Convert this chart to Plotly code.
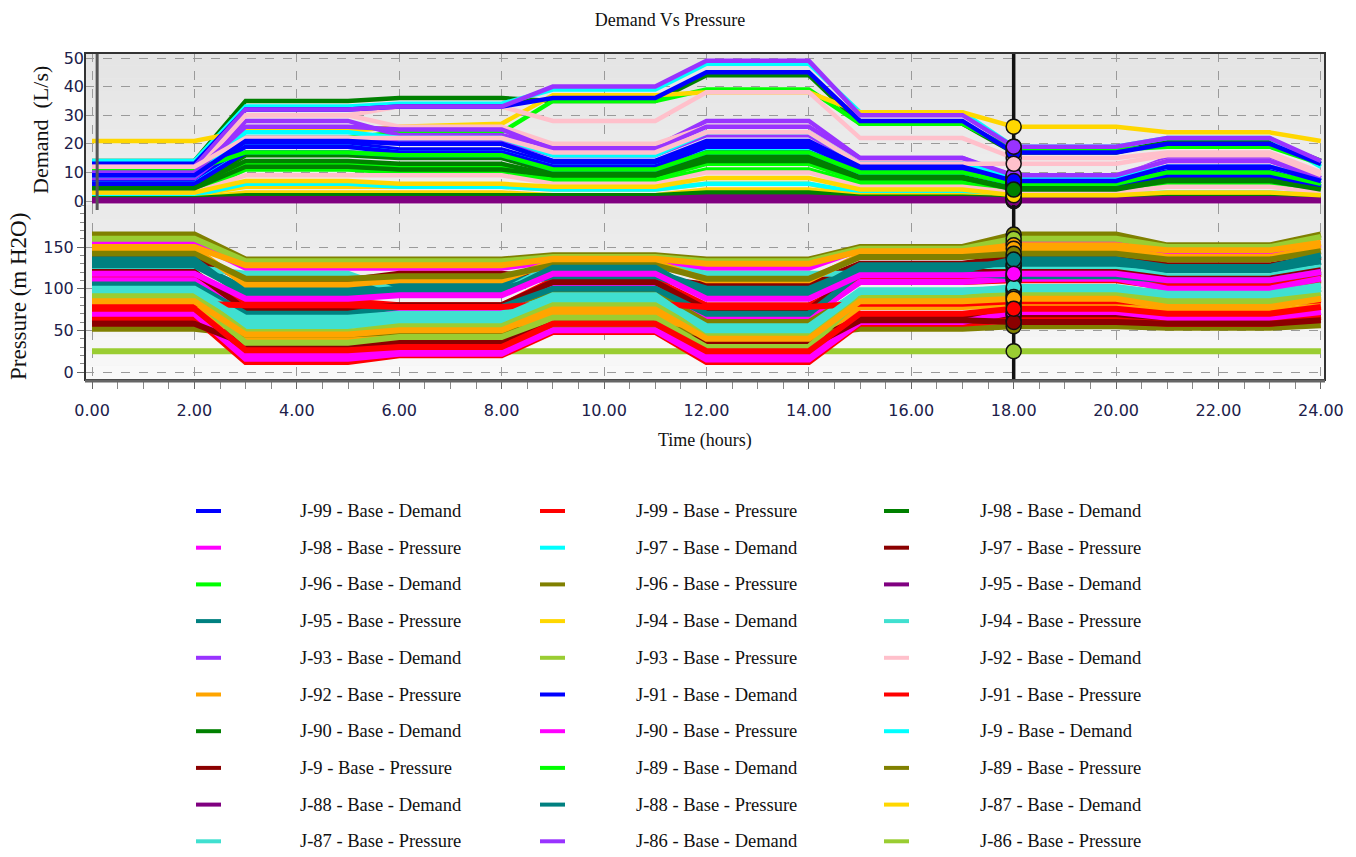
import plotly.graph_objects as go
from plotly.subplots import make_subplots

# ---------------- data ----------------
hours = [0, 2, 3, 5, 6, 8, 9, 11, 12, 14, 15, 17, 18, 20, 21, 23, 24]

junctions = ["J-99", "J-98", "J-97", "J-96", "J-95", "J-94", "J-93", "J-92", "J-91",
             "J-90", "J-9", "J-89", "J-88", "J-87", "J-86", "J-85", "J-84", "J-83",
             "J-82", "J-81", "J-80", "J-8", "J-79", "J-78", "J-77", "J-76",
             "J-75", "J-74", "J-73", "J-72", "J-71", "J-70", "J-7", "J-69"]

# Demand (L/s)
d_j99 = [7, 7, 20, 20, 18, 18, 13, 13, 20, 20, 11, 11, 6, 6, 10, 10, 6]
d_j98 = [14, 14, 35, 35, 36, 36, 35, 35, 44, 44, 27, 27, 17, 17, 21, 21, 14]
d_j97 = [14, 14, 33, 33, 34, 34, 39, 39, 48, 48, 31, 31, 19, 19, 22, 22, 12]
d_j96 = [12, 12, 22, 22, 24, 24, 35, 35, 39, 39, 27, 27, 18, 18, 19, 19, 13]
d_j95 = [1, 1, 2, 2, 2, 2, 1.5, 1.5, 2.5, 2.5, 1.5, 1.5, 1, 1, 1.5, 1.5, 1]
d_j94 = [21, 21, 24.5, 24.5, 26, 27, 37, 37, 38, 38, 31, 31, 26, 26, 24, 24, 21]
d_j93 = [9, 9, 28, 28, 23, 23, 19, 19, 28, 28, 15, 15, 8, 8, 15, 15, 8]
d_j92 = [11, 11, 30, 30, 33, 33, 28, 28, 38, 38, 22, 22, 15, 15, 17, 17, 10]
d_j91 = [13, 13, 32, 32, 33, 33, 36, 36, 45, 45, 28, 28, 17, 17, 20, 20, 13]
d_j90 = [5, 5, 16, 16, 15, 15, 10, 10, 16, 16, 9, 9, 5, 5, 8, 8, 5]
d_j9 = [6, 6, 19, 19, 17, 17, 12, 12, 18, 18, 10, 10, 6, 6, 9, 9, 5]
d_j89 = [4, 4, 13, 13, 12, 12, 8, 8, 13, 13, 7, 7, 4, 4, 7, 7, 4]
d_j88 = [0, 0, 0, 0, 0, 0, 0, 0, 0, 0, 0, 0, 0, 0, 0, 0, 0]
d_j87 = [2, 2, 5, 5, 5, 5, 4, 4, 6, 6, 2, 2, 1, 1, 2, 2, 1]
d_j86 = [12, 12, 32, 32, 33, 33, 40, 40, 49, 49, 30, 30, 19, 19, 22, 22, 14]
d_j85 = [10, 10, 30, 30, 26, 26, 20, 20, 26, 26, 14, 14, 9, 9, 14, 14, 7]
d_j84 = [8, 8, 19, 19, 17, 17, 12, 12, 19, 19, 11, 11, 7, 7, 11, 11, 7]
d_j83 = [5.5, 5.5, 14, 14, 13, 13, 9, 9, 14, 14, 8, 8, 4.5, 4.5, 8, 8, 4.5]
d_j82 = [2, 2, 6, 6, 5, 5, 4, 4, 6, 6, 3, 3, 2, 2, 3, 3, 2]
d_j81 = [3, 3, 11, 11, 10, 10, 7, 7, 11, 11, 6, 6, 3.5, 3.5, 6, 6, 3.5]
d_j80 = [0, 0, 0, 0, 0, 0, 0, 0, 0, 0, 0, 0, 0, 0, 0, 0, 0]
d_j8 = [1, 1, 3, 3, 3, 3, 2, 2, 4, 4, 2, 2, 1, 1, 2, 2, 1]
d_j79 = [8, 8, 22, 22, 21, 21, 16, 16, 23, 23, 13, 13, 8, 8, 12, 12, 7]
d_j78 = [3, 3, 9, 9, 9, 9, 6, 6, 10, 10, 5, 5, 3, 3, 5, 5, 3]
d_j77 = [6, 6, 17, 17, 16, 16, 11, 11, 17, 17, 10, 10, 6, 6, 9, 9, 5]
d_j76 = [1, 1, 2, 2, 2, 2, 2, 2, 3, 3, 1.5, 1.5, 1, 1, 1.5, 1.5, 1]
d_j75 = [9, 9, 24, 24, 22, 22, 16, 16, 24, 24, 13, 13, 8, 8, 12, 12, 7]
d_j74 = [11, 11, 17, 17, 16, 16, 11, 11, 17, 17, 10, 10, 6, 6, 10, 10, 6]
d_j73 = [0.5, 0.5, 1, 1, 1, 1, 1, 1, 1.5, 1.5, 1, 1, 0.5, 0.5, 1, 1, 0.5]
d_j72 = [3, 3, 7, 7, 6, 6, 5, 5, 8, 8, 4, 4, 2, 2, 3, 3, 2]
d_j71 = [10, 10, 26, 26, 25, 25, 18, 18, 26, 26, 15, 15, 9, 9, 14, 14, 8]
d_j70 = [12, 12, 22, 22, 22, 22, 17, 17, 24, 24, 13, 13, 13, 13, 16, 16, 9]
d_j7 = [9, 9, 21, 21, 20, 20, 14, 14, 21, 21, 12, 12, 7, 7, 12, 12, 7]
d_j69 = [4.5, 4.5, 12, 12, 11, 11, 9, 9, 15, 15, 8, 8, 4, 4, 7, 7, 4]

# Pressure (m H2O)
p_j99 = [108, 108, 75, 75, 76, 76, 100, 100, 72, 72, 108, 108, 110, 110, 102, 102, 110]
p_j98 = [155, 155, 125, 125, 125, 125, 133, 133, 125, 125, 147, 147, 155, 155, 143, 143, 153]
p_j97 = [138, 138, 110, 110, 118, 118, 112, 112, 105, 105, 130, 130, 138, 138, 128, 128, 138]
p_j96 = [165, 165, 135, 135, 135, 135, 140, 140, 135, 135, 150, 150, 165, 165, 152, 152, 165]
p_j95 = [130, 130, 100, 100, 105, 105, 120, 120, 100, 100, 125, 125, 128, 128, 122, 122, 132]
p_j94 = [125, 125, 118, 118, 96, 96, 128, 128, 118, 118, 118, 118, 125, 125, 115, 115, 126]
p_j93 = [160, 160, 133, 133, 133, 133, 138, 138, 133, 133, 148, 148, 160, 160, 150, 150, 162]
p_j92 = [150, 150, 128, 128, 128, 128, 136, 136, 130, 130, 145, 145, 152, 152, 146, 146, 155]
p_j91 = [115, 115, 85, 85, 80, 80, 110, 110, 80, 80, 110, 110, 115, 115, 108, 108, 118]
p_j90 = [110, 110, 70, 70, 72, 72, 105, 105, 65, 65, 108, 108, 112, 112, 100, 100, 112]
p_j9 = [120, 120, 75, 75, 80, 80, 108, 108, 75, 75, 120, 120, 120, 120, 112, 112, 122]
p_j89 = [95, 95, 62, 62, 68, 68, 95, 95, 60, 60, 95, 95, 98, 98, 92, 92, 100]
p_j88 = [105, 105, 70, 70, 78, 78, 100, 100, 70, 70, 118, 118, 115, 115, 110, 110, 120]
p_j87 = [100, 100, 65, 65, 70, 70, 90, 90, 55, 55, 98, 98, 100, 100, 90, 90, 100]
p_j86 = [25, 25, 25, 25, 25, 25, 25, 25, 25, 25, 25, 25, 25, 25, 25, 25, 25]
p_j85 = [78, 78, 40, 40, 45, 45, 70, 70, 35, 35, 78, 78, 80, 80, 72, 72, 80]
p_j84 = [82, 82, 80, 80, 78, 78, 82, 82, 78, 78, 82, 82, 85, 85, 82, 82, 86]
p_j83 = [72, 72, 20, 20, 25, 25, 55, 55, 18, 18, 65, 65, 70, 70, 65, 65, 72]
p_j82 = [60, 60, 30, 30, 35, 35, 60, 60, 35, 35, 65, 65, 68, 68, 62, 62, 68]
p_j81 = [52, 52, 45, 45, 48, 48, 55, 55, 45, 45, 52, 52, 55, 55, 53, 53, 56]
p_j80 = [128, 128, 95, 95, 100, 100, 115, 115, 95, 95, 128, 128, 130, 130, 125, 125, 133]
p_j8 = [90, 90, 55, 55, 60, 60, 85, 85, 52, 52, 93, 93, 95, 95, 88, 88, 95]
p_j79 = [93, 93, 48, 48, 55, 55, 80, 80, 45, 45, 90, 90, 92, 92, 85, 85, 92]
p_j78 = [148, 148, 105, 105, 110, 110, 132, 132, 110, 110, 140, 140, 148, 148, 138, 138, 150]
p_j77 = [65, 65, 12, 12, 20, 20, 48, 48, 12, 12, 58, 58, 62, 62, 58, 58, 66]
p_j76 = [70, 70, 16, 16, 22, 22, 50, 50, 15, 15, 60, 60, 72, 72, 65, 65, 72]
p_j75 = [58, 58, 34, 34, 40, 40, 62, 62, 30, 30, 62, 62, 60, 60, 58, 58, 62]
p_j74 = [142, 142, 112, 112, 115, 115, 128, 128, 112, 112, 138, 138, 142, 142, 135, 135, 145]
p_j73 = [135, 135, 90, 90, 95, 95, 125, 125, 90, 90, 122, 122, 135, 135, 126, 126, 140]
p_j72 = [98, 98, 60, 60, 66, 66, 92, 92, 50, 50, 96, 96, 102, 102, 94, 94, 104]
p_j71 = [88, 88, 35, 35, 42, 42, 65, 65, 30, 30, 88, 88, 90, 90, 80, 80, 90]
p_j70 = [85, 85, 45, 45, 50, 50, 75, 75, 40, 40, 85, 85, 88, 88, 78, 78, 88]
p_j7 = [76, 76, 26, 26, 30, 30, 58, 58, 25, 25, 70, 70, 76, 76, 70, 70, 78]
p_j69 = [118, 118, 88, 88, 92, 92, 118, 118, 88, 88, 116, 116, 118, 118, 110, 110, 120]

demand_series = [d_j99, d_j98, d_j97, d_j96, d_j95, d_j94, d_j93, d_j92, d_j91, d_j90,
                 d_j9, d_j89, d_j88, d_j87, d_j86, d_j85, d_j84, d_j83, d_j82, d_j81,
                 d_j80, d_j8, d_j79, d_j78, d_j77, d_j76,
                 d_j75, d_j74, d_j73, d_j72, d_j71, d_j70, d_j7, d_j69]
pressure_series = [p_j99, p_j98, p_j97, p_j96, p_j95, p_j94, p_j93, p_j92, p_j91, p_j90,
                   p_j9, p_j89, p_j88, p_j87, p_j86, p_j85, p_j84, p_j83, p_j82, p_j81,
                   p_j80, p_j8, p_j79, p_j78, p_j77, p_j76,
                   p_j75, p_j74, p_j73, p_j72, p_j71, p_j70, p_j7, p_j69]

demand_colors = ["#0000FF", "#008000", "#00FFFF", "#00FF00",
                 "#800080", "#FFD700", "#9933FF", "#FFC0CB"]
pressure_colors = ["#FF0000", "#FF00FF", "#8B0000", "#808000",
                   "#008080", "#40E0D0", "#9ACD32", "#FFA500"]

x_ticks = [0, 2, 4, 6, 8, 10, 12, 14, 16, 18, 20, 22, 24]
demand_ticks = [0, 10, 20, 30, 40, 50]
pressure_ticks = [0, 50, 100, 150]

CURSOR_HOUR = 18
X_RANGE = [-0.137, 24.08]
DEMAND_RANGE = [-1.4, 51.75]
PRESSURE_RANGE = [-9.6, 200.4]
LEGEND_COUNT = 30

# ---------------- layout geometry (pixels) ----------------
W, H = 1356, 857
L, R, T, B = 85, 31, 53, 477
PW, PH = W - L - R, H - T - B
SPLIT_PX = 205  # boundary between demand and pressure panels


def px_x(px):
    return (px - L) / PW


def px_y(py):
    return (H - B - py) / PH


SERIF = "Liberation Serif, Times New Roman, serif"
TICKFONT = dict(family="DejaVu Sans, Verdana, sans-serif", size=16, color="#20204a")

fig = make_subplots(rows=2, cols=1, shared_xaxes=True, vertical_spacing=0,
                    row_heights=[(SPLIT_PX - T) / PH, (H - B - SPLIT_PX) / PH])

for i, name in enumerate(junctions):
    fig.add_trace(go.Scatter(x=hours, y=demand_series[i], mode="lines",
                             line=dict(color=demand_colors[i % 8], width=4.5),
                             name=f"{name} - Base - Demand", showlegend=False),
                  row=1, col=1)
    fig.add_trace(go.Scatter(x=hours, y=pressure_series[i], mode="lines",
                             line=dict(color=pressure_colors[i % 8], width=6),
                             name=f"{name} - Base - Pressure", showlegend=False),
                  row=2, col=1)

# cursor line at the selected hour
fig.add_trace(go.Scatter(x=[CURSOR_HOUR, CURSOR_HOUR], y=DEMAND_RANGE, mode="lines",
                         line=dict(color="#111111", width=3.5), showlegend=False,
                         hoverinfo="skip"), row=1, col=1)
fig.add_trace(go.Scatter(x=[CURSOR_HOUR, CURSOR_HOUR], y=PRESSURE_RANGE, mode="lines",
                         line=dict(color="#111111", width=3.5), showlegend=False,
                         hoverinfo="skip"), row=2, col=1)

ci = hours.index(CURSOR_HOUR)
n = len(junctions)
fig.add_trace(go.Scatter(x=[CURSOR_HOUR] * n, y=[s[ci] for s in demand_series],
                         mode="markers", cliponaxis=False, showlegend=False,
                         marker=dict(size=15, color=[demand_colors[i % 8] for i in range(n)],
                                     line=dict(color="#111111", width=1.5))),
              row=1, col=1)
fig.add_trace(go.Scatter(x=[CURSOR_HOUR] * n, y=[s[ci] for s in pressure_series],
                         mode="markers", cliponaxis=False, showlegend=False,
                         marker=dict(size=15, color=[pressure_colors[i % 8] for i in range(n)],
                                     line=dict(color="#111111", width=1.5))),
              row=2, col=1)

grid = dict(showgrid=True, gridcolor="#9a9a9a", griddash="dash", gridwidth=1, zeroline=False)

fig.update_xaxes(range=X_RANGE, tickvals=x_ticks, **grid, showline=False)
fig.update_xaxes(row=1, col=1, showticklabels=False, ticks="")
fig.update_xaxes(row=2, col=1, ticks="outside", ticklen=8, tickcolor="#666666", tickwidth=1,
                 tickformat=".2f", tickfont=TICKFONT, ticklabelstandoff=8,
                 minor=dict(dtick=0.5, tick0=0, ticks="outside", ticklen=8,
                            tickcolor="#888888", showgrid=False))
fig.update_yaxes(row=1, col=1, range=DEMAND_RANGE, tickvals=demand_ticks, ticks="",
                 tickfont=TICKFONT, **grid)
fig.update_yaxes(row=2, col=1, range=PRESSURE_RANGE, tickvals=pressure_ticks,
                 ticks="outside", ticklen=7, tickcolor="#666666", tickfont=TICKFONT,
                 minor=dict(dtick=10, tick0=0, ticks="outside", ticklen=4,
                            tickcolor="#888888", showgrid=False),
                 **grid)

shapes = []
# background gradient bands
nb = 12
for k in range(nb):
    y0 = T + (SPLIT_PX - T) * k / nb
    y1 = T + (SPLIT_PX - T) * (k + 1) / nb
    v = int(0xe5 + (0xef - 0xe5) * k / (nb - 1))
    shapes.append(dict(type="rect", xref="paper", yref="paper", x0=0, x1=1,
                       y0=px_y(y1), y1=px_y(y0), fillcolor=f"rgb({v},{v},{v})",
                       line=dict(width=0), layer="below"))
for k in range(nb):
    y0 = SPLIT_PX + (H - B - SPLIT_PX) * k / nb
    y1 = SPLIT_PX + (H - B - SPLIT_PX) * (k + 1) / nb
    v = int(0xea + (0xf9 - 0xea) * k / (nb - 1))
    shapes.append(dict(type="rect", xref="paper", yref="paper", x0=0, x1=1,
                       y0=px_y(y1), y1=px_y(y0), fillcolor=f"rgb({v},{v},{v})",
                       line=dict(width=0), layer="below"))
# small marker line near the origin of the demand panel
shapes.append(dict(type="line", xref="x", yref="paper", x0=0.1, x1=0.1,
                   y0=px_y(210), y1=1, line=dict(color="#555555", width=3)))
# frame
shapes.append(dict(type="rect", xref="paper", yref="paper", x0=0, x1=1, y0=0, y1=1,
                   line=dict(color="#333333", width=2)))
shapes.append(dict(type="line", xref="paper", yref="paper", x0=0, x1=1,
                   y0=px_y(381), y1=px_y(381), line=dict(color="#666666", width=3)))

annotations = []
# axis titles
annotations.append(dict(text="Time (hours)", xref="paper", yref="paper",
                        x=px_x(705), y=px_y(440), xanchor="center", yanchor="middle",
                        showarrow=False,
                        font=dict(family=SERIF, size=18, color="#111111")))
annotations.append(dict(text="Demand\u00a0 (L/s)", xref="paper", yref="paper",
                        x=px_x(40), y=px_y(130), xanchor="center", yanchor="middle",
                        textangle=-90, showarrow=False,
                        font=dict(family=SERIF, size=22, color="#111111")))
annotations.append(dict(text="Pressure (m H2O)", xref="paper", yref="paper",
                        x=px_x(18), y=px_y(297), xanchor="center", yanchor="middle",
                        textangle=-90, showarrow=False,
                        font=dict(family=SERIF, size=23, color="#111111")))

# manual legend (3 columns, row-major)
legend_items = []
for i in range(n):
    legend_items.append((f"{junctions[i]} - Base - Demand", demand_colors[i % 8]))
    legend_items.append((f"{junctions[i]} - Base - Pressure", pressure_colors[i % 8]))
legend_items = legend_items[:LEGEND_COUNT]

LEG_ROW0, LEG_ROW_STEP = 511, 36.7
LEG_SYM_X = [196, 540, 884]
LEG_TXT_X = [298, 634, 978]
for k, (label, color) in enumerate(legend_items):
    r, c = divmod(k, 3)
    yy = px_y(LEG_ROW0 + LEG_ROW_STEP * r)
    shapes.append(dict(type="line", xref="paper", yref="paper",
                       x0=px_x(LEG_SYM_X[c]), x1=px_x(LEG_SYM_X[c] + 25), y0=yy, y1=yy,
                       line=dict(color=color, width=4)))
    annotations.append(dict(text=label, xref="paper", yref="paper",
                            x=px_x(LEG_TXT_X[c]), y=yy, xanchor="left", yanchor="middle",
                            showarrow=False,
                            font=dict(family=SERIF, size=18.5, color="#111111")))

fig.update_layout(
    width=W, height=H,
    margin=dict(l=L, r=R, t=T, b=B),
    paper_bgcolor="white", plot_bgcolor="#ececec",
    showlegend=False,
    title=dict(text="Demand Vs Pressure", x=670 / W, y=1 - 20 / H, xref="container",
               yref="container", xanchor="center", yanchor="middle",
               font=dict(family=SERIF, size=18, color="#111111")),
    shapes=shapes, annotations=annotations,
)

fig.write_html("out.html")
